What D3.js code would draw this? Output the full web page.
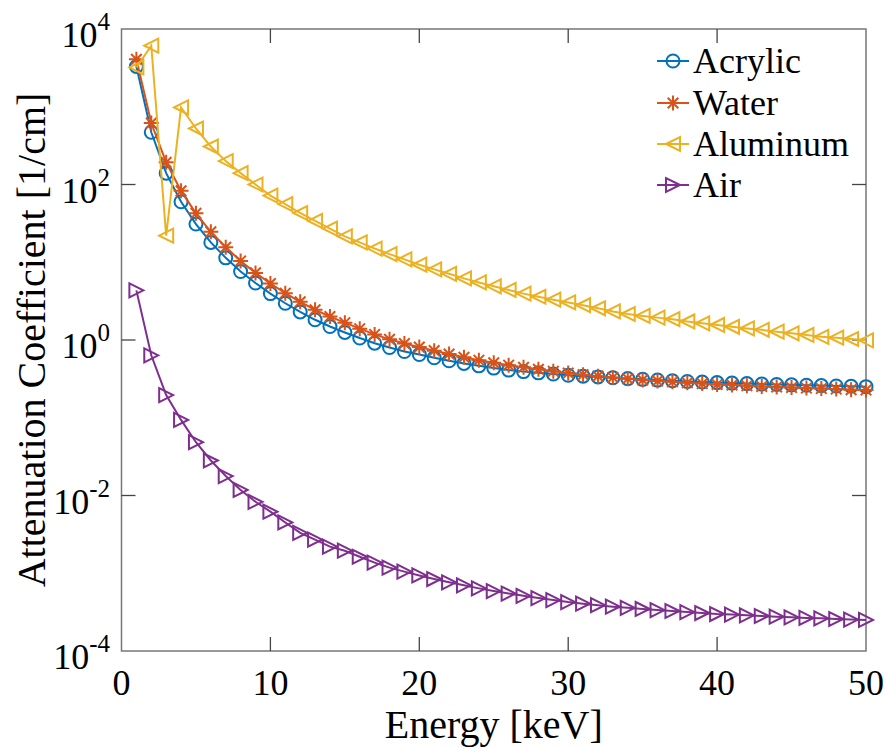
<!DOCTYPE html>
<html>
<head>
<meta charset="utf-8">
<script src="https://cdn.jsdelivr.net/npm/d3@7"></script>
<style>
  body { margin: 0; }
  #wrap { position: relative; width: 887px; height: 748px; }
  #wrap svg { position: absolute; left: 0; top: 0; }
</style>
</head>
<body>
<div id="wrap">
<svg id="chart" width="887" height="748"></svg>
<svg id="labels" width="887" height="748"></svg>
</div>
<script>
// energies in keV
const energy = [1,2,3,4,5,6,7,8,9,10,11,12,13,14,15,16,17,18,19,20,
  21,22,23,24,25,26,27,28,29,30,31,32,33,34,35,36,37,38,39,40,
  41,42,43,44,45,46,47,48,49,50];

// attenuation coefficients [1/cm]
const acrylic = [3300,470,140,60,31,18,11.4,7.6,5.4,3.95,2.97,2.3,1.82,1.49,1.25,1.06,0.91,0.8,0.71,0.65,
  0.59,0.54,0.5,0.465,0.435,0.41,0.392,0.378,0.365,0.352,0.343,0.335,0.327,0.319,0.312,0.305,0.299,0.293,0.288,0.283,
  0.279,0.275,0.271,0.268,0.265,0.262,0.259,0.256,0.254,0.251];
const water = [4080,617,193,82.8,42.6,24.6,15.6,10.4,7.3,5.33,4.0,3.1,2.45,2.0,1.67,1.4,1.18,1.02,0.9,0.81,
  0.73,0.66,0.6,0.55,0.51,0.475,0.445,0.42,0.396,0.376,0.358,0.343,0.33,0.318,0.307,0.298,0.29,0.282,0.275,0.268,
  0.263,0.258,0.253,0.249,0.245,0.241,0.237,0.234,0.23,0.227];
const aluminum = [3200,6110,22,980,525,308,200,140,100,72,56,43,34,27,21.5,18,15,12.7,10.9,9.3,
  8.1,7.1,6.2,5.5,4.9,4.4,3.95,3.6,3.3,3.04,2.8,2.56,2.33,2.16,2.04,1.94,1.85,1.73,1.64,1.56,
  1.48,1.41,1.35,1.28,1.22,1.16,1.1,1.07,1.03,0.99];
const air = [4.35,0.636,0.196,0.0938,0.0485,0.0282,0.0178,0.0118,0.0083,0.0062,0.0045,0.0033,0.0027,0.0022,0.00195,0.00163,0.00137,0.00118,0.00105,0.000937,
  0.000843,0.000765,0.000699,0.000639,0.00059,0.000548,0.000512,0.00048,0.000452,0.000426,0.000406,0.000388,0.000372,0.000359,0.000347,0.000336,0.000327,0.000317,0.000308,0.000299,
  0.000294,0.000288,0.000282,0.000276,0.000271,0.000266,0.000263,0.000258,0.000254,0.000251];

const seriesNames = ["Acrylic", "Water", "Aluminum", "Air"];
const seriesValues = [acrylic, water, aluminum, air];
const seriesColors = ["#0072BD", "#D95319", "#EDB120", "#7E2F8E"];
const seriesMarkers = ["circle", "asterisk", "triLeft", "triRight"];

const xTicks = [0, 10, 20, 30, 40, 50];
const yTickExp = [-4, -2, 0, 2, 4];

const plot = { left: 121.5, right: 866, top: 29, bottom: 651 };
const serif = '"Liberation Serif"';

const svg = d3.select("#chart");
const txt = d3.select("#labels");

const x = d3.scaleLinear().domain([0, 50]).range([plot.left, plot.right]);
const y = d3.scaleLog().domain([1e-4, 1e4]).range([plot.bottom, plot.top]);

// marker shapes
function markerPath(type, r) {
  const p = d3.path();
  if (type === "circle") {
    p.moveTo(r, 0); p.arc(0, 0, r, 0, 2 * Math.PI);
  } else if (type === "asterisk") {
    for (let i = 0; i < 4; i++) {
      const a = i * Math.PI / 4;
      p.moveTo(-r * Math.cos(a), -r * Math.sin(a));
      p.lineTo(r * Math.cos(a), r * Math.sin(a));
    }
  } else if (type === "triLeft") {
    p.moveTo(-r, 0); p.lineTo(r, -r); p.lineTo(r, r); p.closePath();
  } else if (type === "triRight") {
    p.moveTo(r, 0); p.lineTo(-r, -r); p.lineTo(-r, r); p.closePath();
  }
  return p.toString();
}
const markerSize = { circle: 6.5, asterisk: 7.5, triLeft: 7, triRight: 7 };

// box
svg.append("rect")
  .attr("x", plot.left).attr("y", plot.top)
  .attr("width", plot.right - plot.left).attr("height", plot.bottom - plot.top)
  .attr("fill", "none").attr("stroke", "#777").attr("stroke-width", 1.5);

const tickLen = 14;
const ticks = svg.append("g").attr("stroke", "#444").attr("stroke-width", 1.3);
xTicks.filter(t => t > 0 && t < 50).forEach(t => {
  ticks.append("line").attr("x1", x(t)).attr("x2", x(t)).attr("y1", plot.bottom).attr("y2", plot.bottom - tickLen);
  ticks.append("line").attr("x1", x(t)).attr("x2", x(t)).attr("y1", plot.top).attr("y2", plot.top + tickLen);
});
yTickExp.filter(e => e > -4 && e < 4).forEach(e => {
  const yy = y(Math.pow(10, e));
  ticks.append("line").attr("x1", plot.left).attr("x2", plot.left + tickLen).attr("y1", yy).attr("y2", yy);
  ticks.append("line").attr("x1", plot.right).attr("x2", plot.right - tickLen).attr("y1", yy).attr("y2", yy);
});

// series
const line = d3.line().x(d => x(d[0])).y(d => y(d[1]));
seriesValues.forEach((vals, i) => {
  const pts = energy.map((e, k) => [e, vals[k]]);
  const g = svg.append("g");
  g.append("path").datum(pts)
    .attr("fill", "none").attr("stroke", seriesColors[i]).attr("stroke-width", 2)
    .attr("d", line);
  g.selectAll("path.m").data(pts).join("path").attr("class", "m")
    .attr("transform", d => `translate(${x(d[0])},${y(d[1])})`)
    .attr("d", markerPath(seriesMarkers[i], markerSize[seriesMarkers[i]]))
    .attr("fill", "none").attr("stroke", seriesColors[i]).attr("stroke-width", 2);
});

// legend samples
const legendY = [61, 103, 144, 185];
seriesNames.forEach((name, i) => {
  const g = svg.append("g").attr("transform", `translate(0,${legendY[i]})`);
  g.append("line").attr("x1", 657).attr("x2", 689).attr("y1", 0).attr("y2", 0)
    .attr("stroke", seriesColors[i]).attr("stroke-width", 2);
  g.append("path").attr("transform", "translate(673,0)")
    .attr("d", markerPath(seriesMarkers[i], markerSize[seriesMarkers[i]]))
    .attr("fill", "none").attr("stroke", seriesColors[i]).attr("stroke-width", 2);
});

// all text goes into its own overlay svg
txt.selectAll("text.xt").data(xTicks).join("text").attr("class", "xt")
  .attr("x", d => x(d)).attr("y", 695)
  .attr("font-family", serif).attr("font-size", 36)
  .attr("text-anchor", "middle")
  .text(d => d);

const yl = txt.selectAll("text.yt").data(yTickExp).join("text").attr("class", "yt")
  .attr("x", 110).attr("y", d => y(Math.pow(10, d)) + 18)
  .attr("font-family", serif).attr("font-size", 36)
  .attr("text-anchor", "end");
yl.append("tspan").text("10");
yl.append("tspan").attr("font-size", 25).attr("dy", -17).text(d => d < 0 ? "-" + (-d) : d);

txt.append("text")
  .attr("x", (plot.left + plot.right) / 2).attr("y", 738)
  .attr("font-family", serif).attr("font-size", 40)
  .attr("text-anchor", "middle").text("Energy [keV]");
txt.append("text")
  .attr("transform", `translate(45,${(plot.top + plot.bottom) / 2}) rotate(-90)`)
  .attr("font-family", serif).attr("font-size", 40)
  .attr("text-anchor", "middle")
  .text("Attenuation Coefficient [1/cm]");

seriesNames.forEach((name, i) => {
  txt.append("text")
    .attr("x", 693).attr("y", legendY[i] + 12)
    .attr("font-family", serif).attr("font-size", 36)
    .text(name);
});
</script>
</body>
</html>
